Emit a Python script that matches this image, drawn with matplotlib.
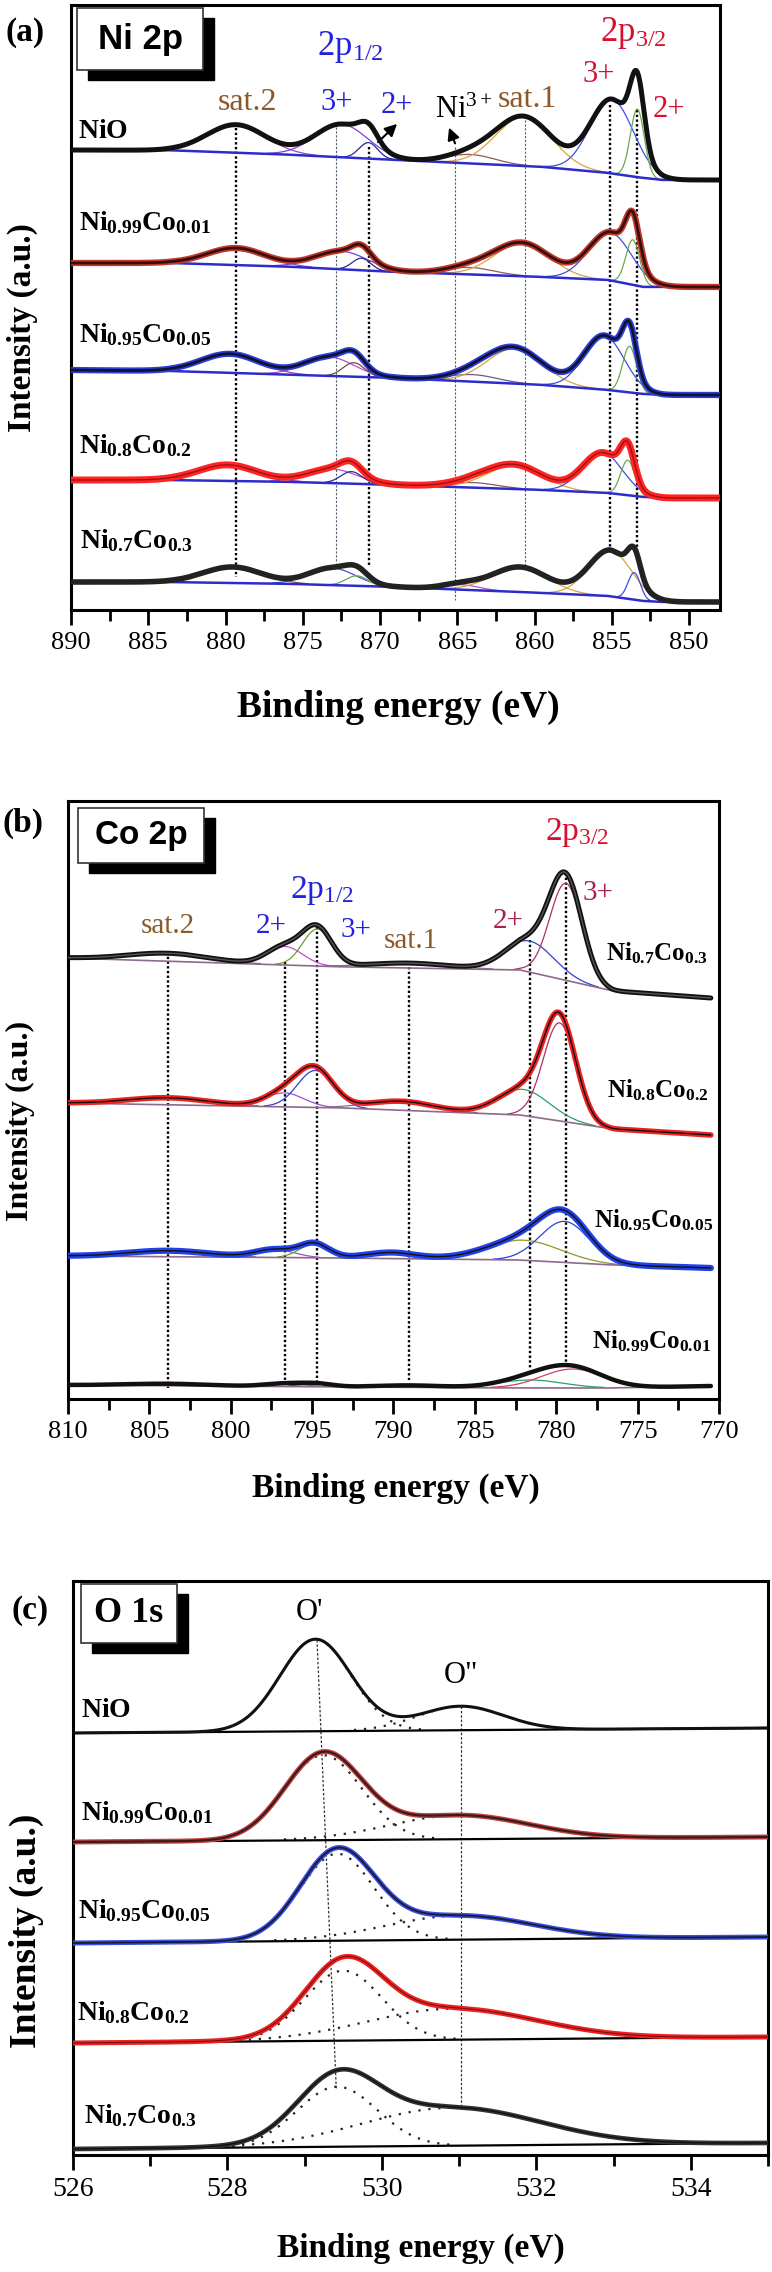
import numpy as np
import matplotlib
matplotlib.use('Agg')
import matplotlib.pyplot as plt
from matplotlib.ticker import MultipleLocator
from matplotlib.patches import Rectangle

plt.rcParams['font.family'] = ['Liberation Serif', 'DejaVu Serif']
plt.rcParams['mathtext.fontset'] = 'custom'
plt.rcParams['mathtext.rm'] = 'Liberation Serif'
plt.rcParams['mathtext.bf'] = 'Liberation Serif:bold'
plt.rcParams['mathtext.it'] = 'Liberation Serif:italic'

# ------------------------------------------------------------------ data
# Panel (a) Ni 2p : background knots and fitted peak parameters
A_SAMPLES = ['NiO', 'Ni0.99Co0.01', 'Ni0.95Co0.05', 'Ni0.8Co0.2', 'Ni0.7Co0.3']
A_BG_E = [848, 851.66, 852.94, 855.19, 859.35, 868.96, 875.37, 883.38, 890]
A_BG = [[180, 180, 178, 173, 167, 160, 155, 150.3, 150],
        [287, 287, 287, 280, 277, 272, 267, 263, 263],
        [395, 395, 394, 390, 385, 378, 375, 371, 370],
        [498, 498, 497, 493, 490, 485, 482, 480, 480],
        [602, 602, 601, 596, 593, 587, 584, 582, 582]]
# component order: sat.2, 2p1/2 3+, 2p1/2 2+, Ni3+ sat, sat.1, 2p3/2 3+, 2p3/2 2+
A_CENTERS = [[879.3, 872.5, 870.75, 864.15, 860.7, 855.0, 853.35],
             [879.3, 872.5, 871.2, 864.2, 860.8, 855.1, 853.64],
             [879.7, 873.3, 871.7, 864.0, 861.27, 855.5, 853.85],
             [879.86, 873.1, 871.85, 864.0, 861.27, 855.6, 853.97],
             [879.54, 873.1, 871.5, 864.8, 860.95, 855.1, 853.55]]
A_HEIGHTS = [[28, 33, 16, 9, 49, 74, 68],
             [17, 18, 12, 7, 33, 48, 45],
             [19, 19, 14, 7, 35, 54, 46],
             [16, 14, 12, 5, 23.5, 40, 35],
             [16, 17, 10, 5, 25, 46, 27]]
A_WIDTHS = [[1.9, 1.7, 0.6, 1.6, 1.8, 1.4, 0.45],
            [1.9, 1.7, 0.6, 1.6, 1.8, 1.4, 0.45],
            [1.9, 1.6, 0.7, 1.6, 1.8, 1.3, 0.45],
            [1.9, 1.6, 0.7, 1.6, 1.8, 1.3, 0.45],
            [1.9, 1.5, 0.7, 1.2, 1.8, 1.4, 0.40]]
A_MARK_E = [879.3, 872.87, 870.72, 865.12, 860.63, 855.12, 853.36]
A_MARK_TOP = [128, 127, 147, 147, 120, 105, 110]
A_MARK_BOT = [577, 563, 567, 600, 570, 550, 557]
A_MARK_THICK = [True, False, True, False, False, True, True]

# Panel (b) Co 2p
B_SAMPLES = ['Ni0.7Co0.3', 'Ni0.8Co0.2', 'Ni0.95Co0.05', 'Ni0.99Co0.01']
B_BG_E = [770.5, 776.5, 782.2, 792.9, 810]
B_BG = [[998, 991, 970, 967, 958],
        [1135, 1129, 1115, 1108, 1103],
        [1268, 1265, 1260, 1258, 1256],
        [1386, 1388, 1388, 1387, 1385]]
# component order: sat.2, 2p1/2 2+, 2p1/2 3+, sat.1, 2p3/2 2+, 2p3/2 3+
B_CENTERS = [[803.84, 796.68, 794.68, 789.05, 781.62, 779.4],
             [803.84, 796.7, 794.8, 789.5, 782.0, 779.8],
             [803.84, 797.3, 794.86, 790.14, 782.0, 779.49],
             [803.84, 796.7, 794.7, 789.0, 781.6, 779.0]]
B_HEIGHTS = [[8, 18.5, 37, 5, 31, 97],
             [7, 14, 37, 9, 26, 98],
             [6, 8, 14, 6, 20, 41],
             [2, 3, 3, 2, 8, 19]]
B_WIDTHS = [[2.5, 1.1, 0.9, 2.5, 1.5, 1.0],
            [2.5, 1.2, 1.1, 2.0, 1.6, 1.0],
            [2.5, 1.2, 0.9, 1.5, 2.3, 1.5],
            [2.5, 1.2, 1.0, 2.0, 2.0, 1.9]]
B_MARK_E = [803.84, 796.68, 794.68, 789.05, 781.62, 779.40]
B_MARK_TOP = [952, 962, 927, 967, 940, 873]
B_MARK_BOT = [1388, 1383, 1383, 1380, 1368, 1367]

# Panel (c) O 1s
C_SAMPLES = ['NiO', 'Ni0.99Co0.01', 'Ni0.95Co0.05', 'Ni0.8Co0.2', 'Ni0.7Co0.3']
C_BG_E = [526, 535]
C_BG = [[1733, 1728], [1842, 1837], [1943, 1937], [2043, 2037], [2149, 2143]]
C_CENTERS = [[529.14, 531.02], [529.24, 531.0], [529.42, 531.0], [529.5, 530.9], [529.42, 530.9]]
C_HEIGHTS = [[92, 24], [85, 24], [87, 24], [70, 31], [60, 38]]
C_WIDTHS = [[0.46, 0.55], [0.5, 0.9], [0.48, 0.95], [0.5, 1.1], [0.52, 1.15]]
C_MARK1_E = [529.16, 529.41]
C_MARK1_ROW = [1640, 2090]
C_MARK2_E = [531.02, 531.02]
C_MARK2_ROW = [1706, 2107]

# ------------------------------------------------------------------ styles
A_COMP_COLORS = [
    ['#a040c0', '#7b3fe0', '#2a2a90', '#8b5a5a', '#d9a441', '#3b4fe0', '#6aa84f'],
    ['#a040c0', '#7b3fe0', '#2a2a90', '#8b5a5a', '#d9a441', '#3b4fe0', '#6aa84f'],
    ['#a040c0', '#b050d0', '#7a4a3a', '#6a5a8a', '#d9a441', '#3b4fe0', '#6aa84f'],
    ['#a040c0', '#b050d0', '#2a2a90', '#8b5a5a', '#d9a441', '#3b4fe0', '#6aa84f'],
    ['#8b5a5a', '#3b4fe0', '#6aa84f', '#c050d0', '#d9a441', '#d9a441', '#3b4fe0']]
A_ENV = [[('#111111', 3.6)],
         [('#c0392b', 4.5), ('#3a0d0d', 2.0)],
         [('#2b3fd6', 4.5), ('#111133', 2.0)],
         [('#ff2424', 5.0), ('#a01010', 1.0)],
         [('#222222', 4.0)]]
B_COMP_COLORS = [
    ['#8b6a8a', '#c050d0', '#6b9e23', '#8b6a8a', '#3040d0', '#b0306a'],
    ['#8b6a8a', '#a050d0', '#3040d0', '#8b6a8a', '#2e9e6e', '#b0306a'],
    ['#8b6a8a', '#a050d0', '#6b9e23', '#8b6a8a', '#8a9a2a', '#3040d0'],
    ['#8b6a8a', '#a050d0', '#3040d0', '#8b6a8a', '#2e9e6e', '#d04060']]
B_ENV = [[('#111111', 3.6), ('#555555', 1.0)],
         [('#ee2020', 4.0), ('#111111', 1.0)],
         [('#2040e8', 4.5), ('#111111', 1.0)],
         [('#111111', 3.2)]]
C_ENV = [[('#111111', 2.2)],
         [('#c04040', 3.6), ('#3a1a1a', 1.6)],
         [('#3a4fe0', 3.6), ('#1a1a3a', 1.4)],
         [('#ee2020', 3.6), ('#7a1010', 0.8)],
         [('#333333', 3.4), ('#111111', 1.0)]]

W, H = 772, 2272
fig = plt.figure(figsize=(W / 100, H / 100), dpi=100)


def add_ax(l, r, t, b):
    return fig.add_axes([l / W, 1 - b / H, (r - l) / W, (b - t) / H])


def gauss(E, c, h, s):
    return h * np.exp(-0.5 * ((E - c) / s) ** 2)


def style_axis(ax, major, minor, size):
    for sp in ax.spines.values():
        sp.set_linewidth(2.2)
    ax.set_yticks([])
    ax.xaxis.set_major_locator(MultipleLocator(major))
    ax.xaxis.set_minor_locator(MultipleLocator(minor))
    ax.tick_params(axis='x', which='major', direction='out', length=11, width=2,
                   labelsize=size, pad=5)
    ax.tick_params(axis='x', which='minor', direction='out', length=8, width=2)


def draw_spectrum(ax, E, bg_e, bg_rows, cs, hs, ws, comp_colors, env_styles,
                  bg_color, bg_lw, comp_ls='-', comp_lw=0.9):
    bg = np.interp(E, bg_e, bg_rows)
    total = np.zeros_like(E)
    for c, h, s, col in zip(cs, hs, ws, comp_colors):
        g = gauss(E, c, h, s)
        total += g
        comp = np.where(g > 0.6, bg - g, np.nan)
        ax.plot(E, comp, color=col, lw=comp_lw, ls=comp_ls, zorder=2)
    if bg_color is not None:
        ax.plot(E, bg, color=bg_color, lw=bg_lw, zorder=3)
    for col, lw in env_styles:
        ax.plot(E, bg - total, color=col, lw=lw, zorder=4, solid_capstyle='round')


def sample_label(name):
    if 'Co' not in name:
        return r'$\mathbf{' + name + '}$'
    ni, co = name[2:].split('Co')
    return (r'$\mathbf{Ni}_{\mathbf{' + ni + r'}}\mathbf{Co}_{\mathbf{' + co + r'}}$')


def box(x0, x1, r0, r1, text, family, size):
    fig.add_artist(Rectangle(((x0 + 11) / W, 1 - (r1 + 10) / H), (x1 - x0) / W, (r1 - r0) / H,
                             transform=fig.transFigure, facecolor='black', edgecolor='black', zorder=5))
    fig.add_artist(Rectangle((x0 / W, 1 - r1 / H), (x1 - x0) / W, (r1 - r0) / H,
                             transform=fig.transFigure, facecolor='white', edgecolor='#333333',
                             lw=1.2, zorder=6))
    fig.text((x0 + x1) / 2 / W, 1 - (r0 + r1) / 2 / H, text, family=family, weight='bold',
             fontsize=size, ha='center', va='center', zorder=7)


BROWN = '#8b5a2b'
BLUE = '#2222e0'
RED = '#d81030'
CRIM = '#a8204c'

# ------------------------------------------------------------------ panel (a)
axA = add_ax(71, 720, 5, 610)
axA.set_xlim(890, 848)
axA.set_ylim(610, 5)
style_axis(axA, 5, 2.5, 19)
EA = np.linspace(848, 890, 1800)
for i in range(len(A_SAMPLES)):
    draw_spectrum(axA, EA, A_BG_E, A_BG[i], A_CENTERS[i], A_HEIGHTS[i], A_WIDTHS[i],
                  A_COMP_COLORS[i], A_ENV[i], '#2c2ccc', 1.8)
for e, t, b, thick in zip(A_MARK_E, A_MARK_TOP, A_MARK_BOT, A_MARK_THICK):
    if thick:
        axA.plot([e, e], [t, b], color='black', lw=1.7, ls=(0, (1, 1)), zorder=1)
    else:
        axA.plot([e, e], [t, b], color='#506070', lw=0.8, ls=(0, (2, 1.5)), zorder=1)


def Ea(x):
    return 890 - (x - 71) / 15.45


A_LABEL_X = [78, 79, 79, 79, 80]
A_LABEL_ROW = [138, 230, 342, 453, 548]
for name, x, r in zip(A_SAMPLES, A_LABEL_X, A_LABEL_ROW):
    axA.text(Ea(x), r, sample_label(name), fontsize=20, ha='left', va='baseline', zorder=6)

axA.text(Ea(247), 110, 'sat.2', color=BROWN, fontsize=23, ha='center', va='baseline')
axA.text(Ea(337), 110, '3+', color=BLUE, fontsize=22, ha='center', va='baseline')
axA.text(Ea(397), 113, '2+', color=BLUE, fontsize=22, ha='center', va='baseline')
axA.text(Ea(317), 55, r'$\mathrm{2p}_{\mathrm{1/2}}$', color=BLUE, fontsize=25, ha='left', va='baseline')
axA.text(Ea(435), 118, r'$\mathrm{Ni}^{\mathrm{3+}}$', color='black', fontsize=22, ha='left', va='baseline')
axA.text(Ea(527), 107, 'sat.1', color=BROWN, fontsize=23, ha='center', va='baseline')
axA.text(Ea(600), 41, r'$\mathrm{2p}_{\mathrm{3/2}}$', color=RED, fontsize=25, ha='left', va='baseline')
axA.text(Ea(599), 82, '3+', color=RED, fontsize=22, ha='center', va='baseline')
axA.text(Ea(669), 117, '2+', color=RED, fontsize=22, ha='center', va='baseline')
axA.annotate('', xy=(Ea(399), 122), xytext=(Ea(376), 144),
             arrowprops=dict(arrowstyle='-|>', color='black', lw=1.5, mutation_scale=18))
axA.annotate('', xy=(Ea(448), 125), xytext=(Ea(456), 146),
             arrowprops=dict(arrowstyle='-|>', color='black', lw=1.5, mutation_scale=18))

# ------------------------------------------------------------------ panel (b)
axB = add_ax(68, 719, 801, 1399)
axB.set_xlim(810, 770)
axB.set_ylim(1399, 801)
style_axis(axB, 5, 2.5, 19)
EB = np.linspace(770.5, 810, 1800)
for i in range(len(B_SAMPLES)):
    draw_spectrum(axB, EB, B_BG_E, B_BG[i], B_CENTERS[i], B_HEIGHTS[i], B_WIDTHS[i],
                  B_COMP_COLORS[i], B_ENV[i], '#8b6a8a', 1.2)
for e, t, b in zip(B_MARK_E, B_MARK_TOP, B_MARK_BOT):
    axB.plot([e, e], [t, b], color='black', lw=1.7, ls=(0, (1, 1)), zorder=1)


def Eb(x):
    return 810 - (x - 68) / 16.27


B_LABEL_X = [606, 607, 594, 592]
B_LABEL_ROW = [960, 1097, 1227, 1348]
for name, x, r in zip(B_SAMPLES, B_LABEL_X, B_LABEL_ROW):
    axB.text(Eb(x), r, sample_label(name), fontsize=18, ha='left', va='baseline', zorder=6)

axB.text(Eb(168), 933, 'sat.2', color=BROWN, fontsize=21, ha='center', va='baseline')
axB.text(Eb(271), 933, '2+', color=BLUE, fontsize=21, ha='center', va='baseline')
axB.text(Eb(290), 898, r'$\mathrm{2p}_{\mathrm{1/2}}$', color=BLUE, fontsize=24, ha='left', va='baseline')
axB.text(Eb(356), 937, '3+', color=BLUE, fontsize=21, ha='center', va='baseline')
axB.text(Eb(411), 948, 'sat.1', color=BROWN, fontsize=21, ha='center', va='baseline')
axB.text(Eb(508), 928, '2+', color=CRIM, fontsize=21, ha='center', va='baseline')
axB.text(Eb(545), 840, r'$\mathrm{2p}_{\mathrm{3/2}}$', color=RED, fontsize=24, ha='left', va='baseline')
axB.text(Eb(598), 900, '3+', color=CRIM, fontsize=21, ha='center', va='baseline')

# ------------------------------------------------------------------ panel (c)
axC = add_ax(73, 768, 1581, 2155)
axC.set_xlim(526, 535)
axC.set_ylim(2155, 1581)
style_axis(axC, 2, 1, 20)
EC = np.linspace(526, 535, 1500)
for i in range(len(C_SAMPLES)):
    bg = np.interp(EC, C_BG_E, C_BG[i])
    total = np.zeros_like(EC)
    for c, h, s in zip(C_CENTERS[i], C_HEIGHTS[i], C_WIDTHS[i]):
        g = gauss(EC, c, h, s)
        total += g
        axC.plot(EC, np.where(g > 1.0, bg - g, np.nan), color='#222222', lw=1.6,
                 ls=(0, (1, 3.5)), zorder=2)
    axC.plot(EC, bg, color='black', lw=1.6, zorder=3)
    for col, lw in C_ENV[i]:
        axC.plot(EC, bg - total, color=col, lw=lw, zorder=4)
axC.plot(C_MARK1_E, C_MARK1_ROW, color='#333333', lw=0.9, ls=(0, (2, 1.5)), zorder=1)
axC.plot(C_MARK2_E, C_MARK2_ROW, color='#333333', lw=0.9, ls=(0, (2, 1.5)), zorder=1)


def Ec(x):
    return 526 + (x - 73) / 77.2


C_LABEL_X = [81, 81, 78, 77, 84]
C_LABEL_ROW = [1717, 1820, 1918, 2020, 2123]
for name, x, r in zip(C_SAMPLES, C_LABEL_X, C_LABEL_ROW):
    axC.text(Ec(x), r, sample_label(name), fontsize=20, ha='left', va='baseline', zorder=6)
axC.text(Ec(309), 1620, "O'", fontsize=22, ha='center', va='baseline')
axC.text(Ec(461), 1683, 'O"', fontsize=22, ha='center', va='baseline')

# ------------------------------------------------------------------ figure texts
box(77, 203, 8, 70, 'Ni 2p', 'Liberation Sans', 25)
box(78, 204, 808, 863, 'Co 2p', 'Liberation Sans', 24)
box(81, 177, 1584, 1643, 'O 1s', 'Liberation Serif', 26)

fig.text(25 / W, 1 - 33 / H, '(a)', fontsize=24, weight='bold', ha='center', va='center')
fig.text(23 / W, 1 - 823 / H, '(b)', fontsize=24, weight='bold', ha='center', va='center')
fig.text(30 / W, 1 - 1610 / H, '(c)', fontsize=24, weight='bold', ha='center', va='center')

fig.text(22 / W, 1 - 328 / H, 'Intensity (a.u.)', rotation=90, fontsize=24, weight='bold',
         ha='center', va='center')
fig.text(20 / W, 1 - 1121 / H, 'Intensity (a.u.)', rotation=90, fontsize=23, weight='bold',
         ha='center', va='center')
fig.text(26 / W, 1 - 1931 / H, 'Intensity (a.u.)', rotation=90, fontsize=27, weight='bold',
         ha='center', va='center')

fig.text(398 / W, 1 - 707 / H, 'Binding energy (eV)', fontsize=27, weight='bold',
         ha='center', va='center')
fig.text(396 / W, 1 - 1488 / H, 'Binding energy (eV)', fontsize=24, weight='bold',
         ha='center', va='center')
fig.text(421 / W, 1 - 2248 / H, 'Binding energy (eV)', fontsize=24, weight='bold',
         ha='center', va='center')

fig.savefig('out.png', dpi=100)
